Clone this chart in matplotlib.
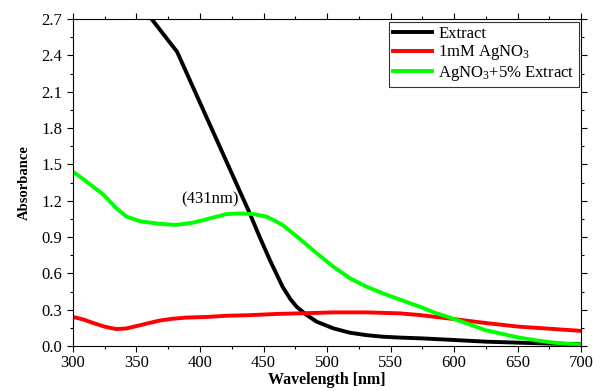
import numpy as np
import matplotlib
matplotlib.use("Agg")
import matplotlib.pyplot as plt
from matplotlib.ticker import MultipleLocator, FormatStrFormatter

plt.rcParams['font.family'] = ['Liberation Serif', 'DejaVu Serif']
plt.rcParams['mathtext.default'] = 'regular'

# Extract
extractX = [355, 362, 382, 439, 447, 455, 460, 465, 471, 476, 484, 492, 505, 518, 531,
            544, 557, 573, 600, 625, 650, 677, 700]
extractY = [2.79, 2.70, 2.43, 1.10, 0.90, 0.71, 0.60, 0.49, 0.39, 0.325, 0.256, 0.20,
            0.146, 0.11, 0.09, 0.077, 0.07, 0.064, 0.05, 0.036, 0.028, 0.02, 0.015]

# 1mM AgNO3
silverX = [300, 308, 316, 325, 334, 342, 350, 360, 368, 378, 389, 405, 421, 439, 460,
           478, 505, 531, 557, 573, 598, 625, 651, 675, 700]
silverY = [0.24, 0.22, 0.19, 0.16, 0.14, 0.145, 0.165, 0.19, 0.21, 0.225, 0.235, 0.24,
           0.25, 0.255, 0.265, 0.27, 0.278, 0.278, 0.27, 0.256, 0.225, 0.19, 0.16,
           0.143, 0.125]

# AgNO3 + 5% extract
mixX = [300, 308, 316, 324, 334, 342, 353, 368, 381, 395, 408, 421, 431, 442, 452,
        458, 465, 478, 492, 505, 518, 531, 544, 557, 573, 585, 598, 612, 625, 638,
        651, 664, 677, 690, 700]
mixY = [1.44, 1.38, 1.315, 1.25, 1.14, 1.07, 1.03, 1.01, 1.00, 1.02, 1.055, 1.09,
        1.095, 1.09, 1.07, 1.04, 1.00, 0.89, 0.765, 0.655, 0.56, 0.49, 0.435, 0.385,
        0.325, 0.275, 0.23, 0.18, 0.13, 0.10, 0.07, 0.048, 0.03, 0.018, 0.012]

seriesNames = ["Extract", "1mM AgNO$_3$", "AgNO$_3$+5% Extract"]

fig = plt.figure(figsize=(5.93, 3.91), dpi=100)
ax = fig.add_axes([0.123, 0.115, 0.857, 0.836])

ax.plot(extractX, extractY, color='black', linewidth=2.8, label=seriesNames[0])
ax.plot(silverX, silverY, color='#ff0000', linewidth=2.8, label=seriesNames[1])
ax.plot(mixX, mixY, color='#00ff00', linewidth=2.8, label=seriesNames[2])

ax.set_xlim(300, 700)
ax.set_ylim(0, 2.7)
ax.xaxis.set_major_locator(MultipleLocator(50))
ax.xaxis.set_minor_locator(MultipleLocator(25))
ax.yaxis.set_major_locator(MultipleLocator(0.3))
ax.yaxis.set_minor_locator(MultipleLocator(0.15))
ax.yaxis.set_major_formatter(FormatStrFormatter('%.1f'))
ax.tick_params(which='both', direction='out', labelsize=12, width=0.8)
ax.tick_params(which='major', length=4)
ax.tick_params(which='minor', length=2.5)
ax.tick_params(which='both', top=True, right=True)
ax.tick_params(axis='x', pad=2.5)

ax.set_xlabel('Wavelength [nm]', fontsize=11.5, fontweight='bold', labelpad=1)
ax.set_ylabel('Absorbance', fontsize=10.5, fontweight='bold', labelpad=8)

ax.text(408, 1.21, '(431nm)', fontsize=12, ha='center', va='center')

leg = ax.legend(loc='upper right', fontsize=12, frameon=True, fancybox=False,
                edgecolor='black', handlelength=2.3, handletextpad=0.4,
                borderpad=0.25, labelspacing=0.1, borderaxespad=0.15)
leg.get_frame().set_linewidth(0.8)

fig.savefig('out.png', dpi=100)
